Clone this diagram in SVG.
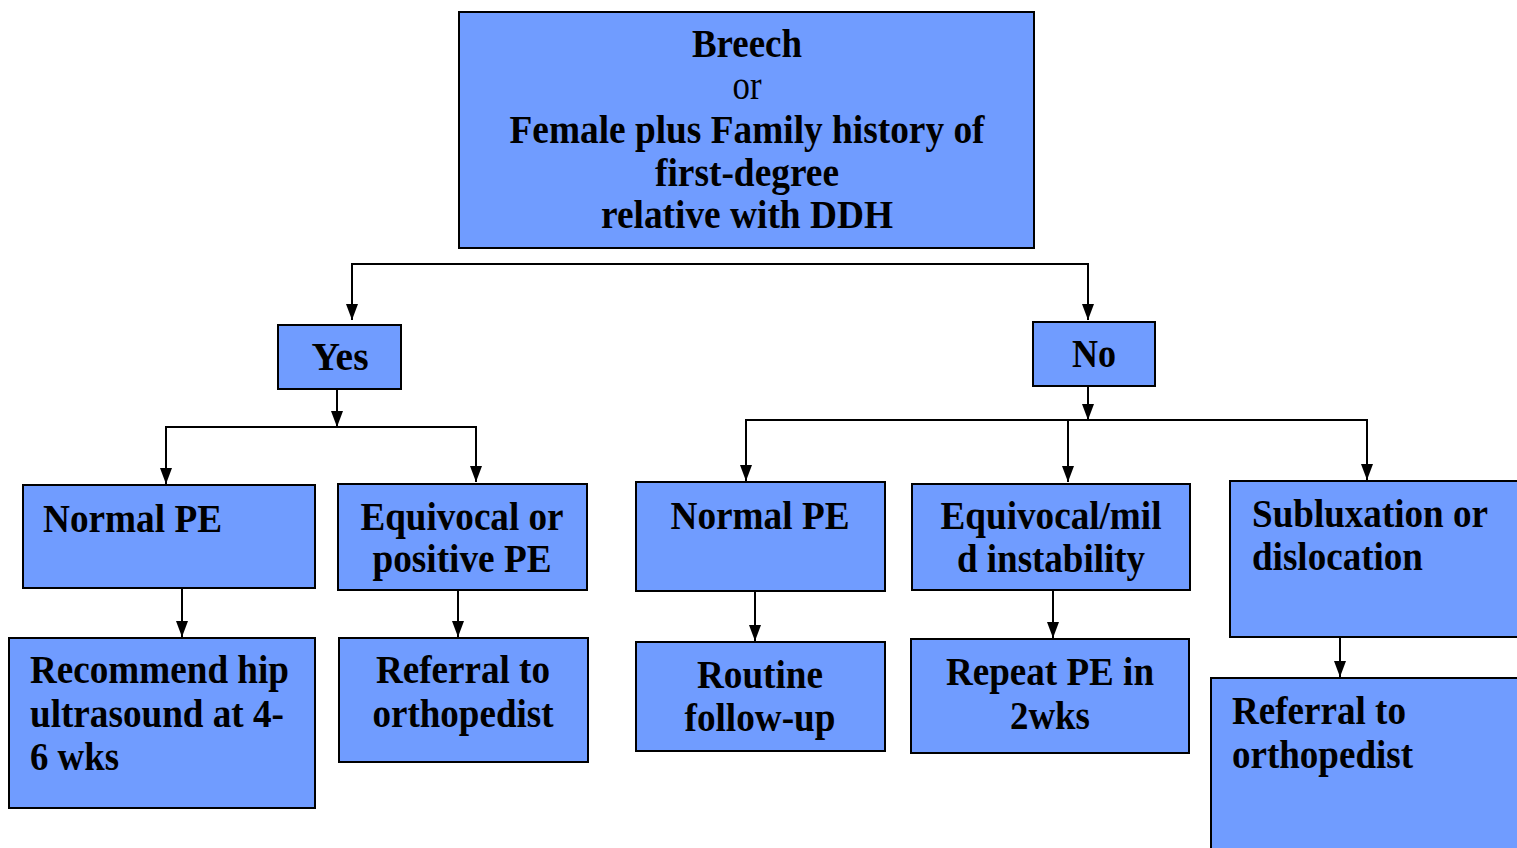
<svg xmlns="http://www.w3.org/2000/svg" width="1517" height="848" viewBox="0 0 1517 848">
<style>
.box{fill:#709cff;stroke:#000;stroke-width:2}
.t{font-family:"Liberation Serif","Times New Roman",serif;font-weight:bold;font-size:39px;fill:#000}
.c{text-anchor:middle}
.n{font-weight:normal}
.ln{fill:none;stroke:#000;stroke-width:2}
</style>
<defs>
<marker id="ah" viewBox="0 0 16 12" refX="16" refY="6" markerWidth="16" markerHeight="12" markerUnits="userSpaceOnUse" orient="auto-start-reverse">
<path d="M0,0 L16,6 L0,12 Z" fill="#000"/>
</marker>
</defs>
<rect width="1517" height="848" fill="#fff"/>
<g id="connectors">
<path class="ln" d="M352,320 V264 H1088 V320" marker-start="url(#ah)" marker-end="url(#ah)"/>
<path class="ln" d="M337,389 V427" marker-end="url(#ah)"/>
<path class="ln" d="M166,484 V427 H476 V482" marker-start="url(#ah)" marker-end="url(#ah)"/>
<path class="ln" d="M1088,386 V420" marker-end="url(#ah)"/>
<path class="ln" d="M746,481 V420 H1367 V480" marker-start="url(#ah)" marker-end="url(#ah)"/>
<path class="ln" d="M1068,420 V482" marker-end="url(#ah)"/>
<path class="ln" d="M182,588 V637" marker-end="url(#ah)"/>
<path class="ln" d="M458,590 V637" marker-end="url(#ah)"/>
<path class="ln" d="M755,591 V641" marker-end="url(#ah)"/>
<path class="ln" d="M1053,590 V638" marker-end="url(#ah)"/>
<path class="ln" d="M1340,637 V677" marker-end="url(#ah)"/>
</g>
<g id="top">
<rect class="box" x="459" y="12" width="575" height="236"/>
<text class="t c" x="747" y="57" textLength="110" lengthAdjust="spacingAndGlyphs">Breech</text>
<text class="t c n" x="747" y="99" textLength="29" lengthAdjust="spacingAndGlyphs">or</text>
<text class="t c" x="747" y="143" textLength="475" lengthAdjust="spacingAndGlyphs">Female plus Family history of</text>
<text class="t c" x="747" y="186" textLength="184" lengthAdjust="spacingAndGlyphs">first-degree</text>
<text class="t c" x="747" y="228" textLength="292" lengthAdjust="spacingAndGlyphs">relative with DDH</text>
</g>
<g id="yes">
<rect class="box" x="278" y="325" width="123" height="64"/>
<text class="t c" x="340" y="370" textLength="57" lengthAdjust="spacingAndGlyphs">Yes</text>
</g>
<g id="no">
<rect class="box" x="1033" y="322" width="122" height="64"/>
<text class="t c" x="1094" y="367" textLength="44" lengthAdjust="spacingAndGlyphs">No</text>
</g>
<g id="normal-pe-yes">
<rect class="box" x="23" y="485" width="292" height="103"/>
<text class="t" x="43" y="532" textLength="179" lengthAdjust="spacingAndGlyphs">Normal PE</text>
</g>
<g id="equivocal-positive">
<rect class="box" x="338" y="484" width="249" height="106"/>
<text class="t c" x="462" y="530" textLength="203" lengthAdjust="spacingAndGlyphs">Equivocal or</text>
<text class="t c" x="462" y="572" textLength="179" lengthAdjust="spacingAndGlyphs">positive PE</text>
</g>
<g id="normal-pe-no">
<rect class="box" x="636" y="482" width="249" height="109"/>
<text class="t c" x="760" y="529" textLength="179" lengthAdjust="spacingAndGlyphs">Normal PE</text>
</g>
<g id="equivocal-mild">
<rect class="box" x="912" y="484" width="278" height="106"/>
<text class="t c" x="1051" y="529" textLength="221" lengthAdjust="spacingAndGlyphs">Equivocal/mil</text>
<text class="t c" x="1051" y="572" textLength="188" lengthAdjust="spacingAndGlyphs">d instability</text>
</g>
<g id="subluxation">
<rect class="box" x="1230" y="481" width="300" height="156"/>
<text class="t" x="1252" y="527" textLength="236" lengthAdjust="spacingAndGlyphs">Subluxation or</text>
<text class="t" x="1252" y="570" textLength="171" lengthAdjust="spacingAndGlyphs">dislocation</text>
</g>
<g id="ultrasound">
<rect class="box" x="9" y="638" width="306" height="170"/>
<text class="t" x="30" y="683" textLength="259" lengthAdjust="spacingAndGlyphs">Recommend hip</text>
<text class="t" x="30" y="727" textLength="254" lengthAdjust="spacingAndGlyphs">ultrasound at 4-</text>
<text class="t" x="30" y="770" textLength="89" lengthAdjust="spacingAndGlyphs">6 wks</text>
</g>
<g id="referral-left">
<rect class="box" x="339" y="638" width="249" height="124"/>
<text class="t c" x="463" y="683" textLength="174" lengthAdjust="spacingAndGlyphs">Referral to</text>
<text class="t c" x="463" y="727" textLength="181" lengthAdjust="spacingAndGlyphs">orthopedist</text>
</g>
<g id="routine">
<rect class="box" x="636" y="642" width="249" height="109"/>
<text class="t c" x="760" y="688" textLength="126" lengthAdjust="spacingAndGlyphs">Routine</text>
<text class="t c" x="760" y="731" textLength="151" lengthAdjust="spacingAndGlyphs">follow-up</text>
</g>
<g id="repeat">
<rect class="box" x="911" y="639" width="278" height="114"/>
<text class="t c" x="1050" y="685" textLength="208" lengthAdjust="spacingAndGlyphs">Repeat PE in</text>
<text class="t c" x="1050" y="729" textLength="80" lengthAdjust="spacingAndGlyphs">2wks</text>
</g>
<g id="referral-right">
<rect class="box" x="1211" y="678" width="320" height="190"/>
<text class="t" x="1232" y="724" textLength="174" lengthAdjust="spacingAndGlyphs">Referral to</text>
<text class="t" x="1232" y="768" textLength="181" lengthAdjust="spacingAndGlyphs">orthopedist</text>
</g>
</svg>
